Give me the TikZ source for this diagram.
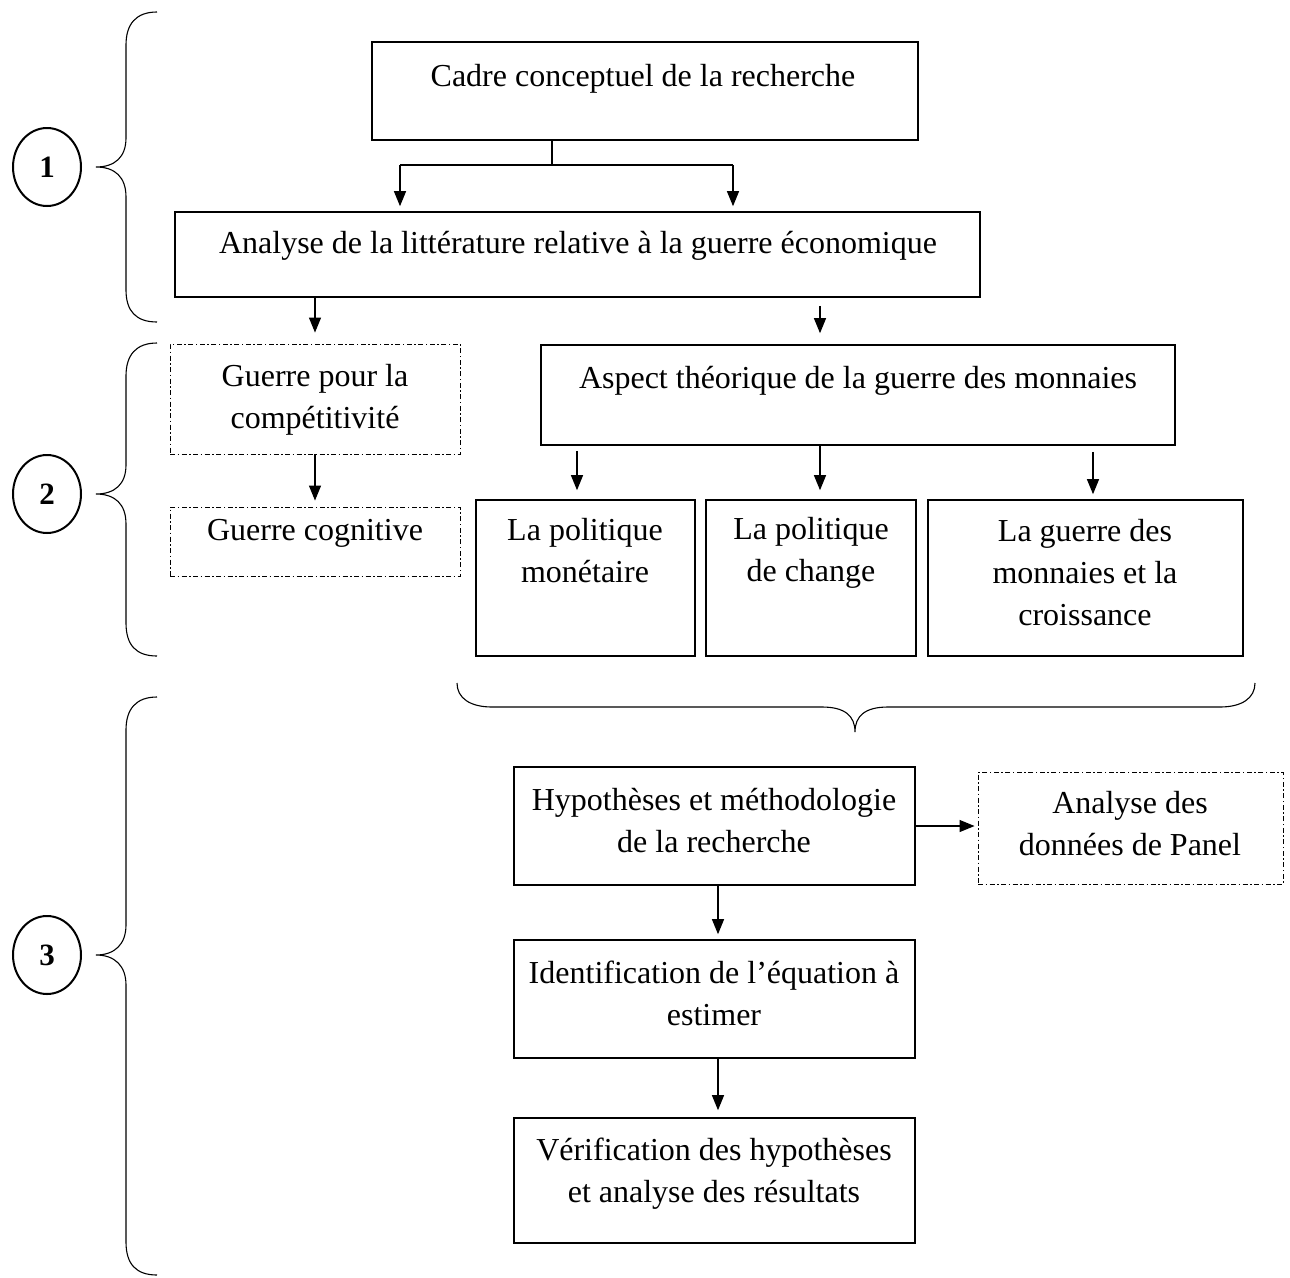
\documentclass[tikz,border=0pt]{standalone}
\usepackage{fontspec}
\setmainfont{Liberation Serif}
\usetikzlibrary{arrows.meta,shapes.geometric}
\begin{document}
\begin{tikzpicture}[x=1pt,y=-1pt,
  txt/.style={font=\fontsize{32}{42}\selectfont, align=center, inner sep=0pt},
  solidbox/.style={draw, line width=1.6pt, inner sep=0pt},
  dashbox/.style={draw, line width=0.9pt, inner sep=0pt, dash pattern=on 5pt off 2.5pt on 1.5pt off 2.5pt},
  conn/.style={line width=1.2pt},
  arr/.style={line width=1.2pt, -{Triangle[length=15pt,width=12pt]}},
  brace/.style={line width=1.1pt},
  stage/.style={draw, ellipse, line width=2pt, minimum width=68pt, minimum height=78pt, inner sep=0pt,
    font=\fontsize{31}{36}\selectfont\bfseries}
]
\useasboundingbox (0,0) rectangle (1290,1277);

% ---- boxes ----
\node[solidbox, minimum width=546pt, minimum height=98pt] (cadre) at (645,91) {};
\node[txt] (cadreT) at (643,79) {Cadre conceptuel de la recherche};

\node[solidbox, minimum width=805pt, minimum height=85pt] (analyse) at (577.5,254.5) {};
\node[txt] (analyseT) at (578,246) {Analyse de la littérature relative à la guerre économique};

\node[dashbox, minimum width=290pt, minimum height=110pt] (gcomp) at (315,399) {};
\node[txt] (gcompT) at (315,400) {Guerre pour la\\compétitivité};

\node[dashbox, minimum width=290pt, minimum height=69pt] (gcog) at (315,541.5) {};
\node[txt] (gcogT) at (315,533) {Guerre cognitive};

\node[solidbox, minimum width=634pt, minimum height=100pt] (aspect) at (858,395) {};
\node[txt] (aspectT) at (858,381) {Aspect théorique de la guerre des monnaies};

\node[solidbox, minimum width=219pt, minimum height=156pt] (polmon) at (585.5,578) {};
\node[txt] (polmonT) at (585,551) {La politique\\monétaire};

\node[solidbox, minimum width=210pt, minimum height=156pt] (polch) at (811,578) {};
\node[txt] (polchT) at (811,553) {La politique\\de change};

\node[solidbox, minimum width=315pt, minimum height=156pt] (gmon) at (1085.5,578) {};
\node[txt] (gmonT) at (1085,573) {La guerre des\\monnaies et la\\croissance};

\node[solidbox, minimum width=401pt, minimum height=118pt] (hyp) at (714.5,826) {};
\node[txt] (hypT) at (714,821) {Hypothèses et méthodologie\\de la recherche};

\node[dashbox, minimum width=305pt, minimum height=112pt] (panel) at (1130.5,828) {};
\node[txt] (panelT) at (1130,824) {Analyse des\\données de Panel};

\node[solidbox, minimum width=401pt, minimum height=118pt] (ident) at (714.5,999) {};
\node[txt] (identT) at (714,993) {Identification de l’équation à\\estimer};

\node[solidbox, minimum width=401pt, minimum height=125pt] (verif) at (714.5,1180.5) {};
\node[txt] (verifT) at (714,1174) {Vérification des hypothèses\\et analyse des résultats};

% ---- connectors ----
\coordinate (fork) at (552,165);
\coordinate (forkL) at (400,165);
\coordinate (forkR) at (733,165);
\draw[conn] (cadre.south -| fork) -- (fork);
\draw[conn] (forkL) -- (forkR);
\draw[arr, shorten >=5pt] (forkL) -- (forkL |- analyse.north);
\draw[arr, shorten >=5pt] (forkR) -- (forkR |- analyse.north);

\coordinate (a2) at (820,0);
\draw[arr, shorten >=11pt] (analyse.south -| gcomp) -- (gcomp.north);
\draw[arr, shorten <=8pt, shorten >=11pt] (analyse.south -| a2) -- (a2 |- aspect.north);

\draw[arr, shorten >=6pt] (gcomp.south) -- (gcog.north);

\coordinate (b1) at (577,0);
\coordinate (b2) at (820,0);
\coordinate (b3) at (1093,0);
\draw[arr, shorten <=5pt, shorten >=9pt] (aspect.south -| b1) -- (b1 |- polmon.north);
\draw[arr, shorten >=9pt] (aspect.south -| b2) -- (b2 |- polch.north);
\draw[arr, shorten <=6pt, shorten >=5pt] (aspect.south -| b3) -- (b3 |- gmon.north);

\coordinate (v) at (718,0);
\draw[arr, shorten >=3pt] (hyp.east) -- (hyp.east -| panel.west);
\draw[arr, shorten >=5pt] (hyp.south -| v) -- (ident.north -| v);
\draw[arr, shorten >=7pt] (ident.south -| v) -- (verif.north -| v);

% ---- horizontal brace under the three boxes ----
\coordinate (hbL) at (457,683);
\coordinate (hbR) at (1255,683);
\coordinate (hbTip) at (855,732);
\draw[brace] (hbL) .. controls (457,698) and (470,707) .. (492,707) -- (822,707)
  .. controls (845,707) and (855,716) .. (hbTip)
  .. controls (855,716) and (865,707) .. (888,707) -- (1220,707)
  .. controls (1242,707) and (1255,698) .. (hbR);

% ---- stage braces and numbers ----
\node[stage] (s1) at (47,167) {1};
\node[stage] (s2) at (47,494) {2};
\node[stage] (s3) at (47,955) {3};

\draw[brace] (157,12) .. controls (136,12) and (126,24) .. (126,45) -- (126,138)
  .. controls (126,157) and (115,167) .. (96,167)
  .. controls (115,167) and (126,177) .. (126,197) -- (126,290)
  .. controls (126,311) and (136,322) .. (157,322);

\draw[brace] (157,343) .. controls (136,343) and (126,355) .. (126,376) -- (126,465)
  .. controls (126,484) and (115,494) .. (96,494)
  .. controls (115,494) and (126,504) .. (126,524) -- (126,623)
  .. controls (126,645) and (136,656) .. (157,656);

\draw[brace] (157,697) .. controls (136,697) and (126,709) .. (126,730) -- (126,925)
  .. controls (126,944) and (115,955) .. (96,955)
  .. controls (115,955) and (126,966) .. (126,985) -- (126,1242)
  .. controls (126,1264) and (136,1275) .. (157,1275);
\end{tikzpicture}
\end{document}
